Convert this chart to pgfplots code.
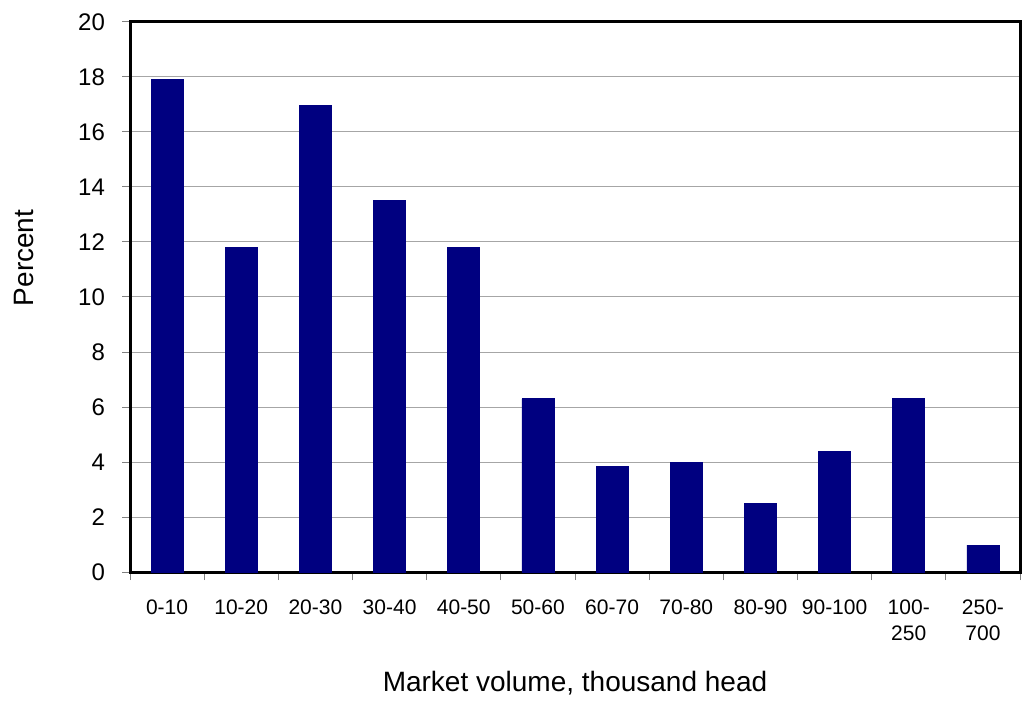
\documentclass[border=0pt]{standalone}
\usepackage{pgfplots}
\pgfplotsset{compat=1.18}
\usepackage{fontspec}
\setmainfont{Liberation Sans}
\definecolor{barnavy}{RGB}{0,0,128}
\begin{document}
\begin{tikzpicture}
\begin{axis}[
  name=ax,
  width=445pt, height=275pt, scale only axis,
  xmin=-0.5, xmax=11.5, ymin=0, ymax=20,
  ytick={0,2,...,20},
  xtick={0,...,11},
  xticklabels={0-10,10-20,20-30,30-40,40-50,50-60,60-70,70-80,80-90,90-100,{100-\\250},{250-\\700}},
  xticklabel style={align=center, font=\fontsize{10.5}{13}\selectfont, yshift=-6.5pt},
  yticklabel style={font=\fontsize{12}{14}\selectfont, xshift=-5pt},
  /pgf/number format/assume math mode=true,
  minor xtick={-0.5,0.5,...,11.5},
  major x tick style={draw=none},
  tick align=outside,
  major tick length=4pt, minor tick length=4pt,
  tick style={gray, line width=0.5pt},
  xtick pos=bottom, ytick pos=left,
  ymajorgrids, grid style={gray!70, line width=0.5pt},
  axis line style={line width=1.5pt},
  xlabel={Market volume, thousand head},
  ylabel={Percent},
  label style={font=\fontsize{14}{17}\selectfont},
  xlabel style={at={(rel axis cs:0.5,0)}, anchor=center, yshift=-55.5pt},
  ylabel style={at={(rel axis cs:0,0.571)}, anchor=center, yshift=53pt},
]
\addplot[ybar, bar width=16pt, fill=barnavy, draw=barnavy] coordinates {
  (0,17.9) (1,11.8) (2,16.95) (3,13.5) (4,11.8) (5,6.3)
  (6,3.85) (7,4.0) (8,2.5) (9,4.4) (10,6.3) (11,0.98)
};
\end{axis}
\path ([shift={(-65pt,-62pt)}]ax.south west) rectangle ([shift={(5.5pt,11pt)}]ax.north east);
\end{tikzpicture}
\end{document}
